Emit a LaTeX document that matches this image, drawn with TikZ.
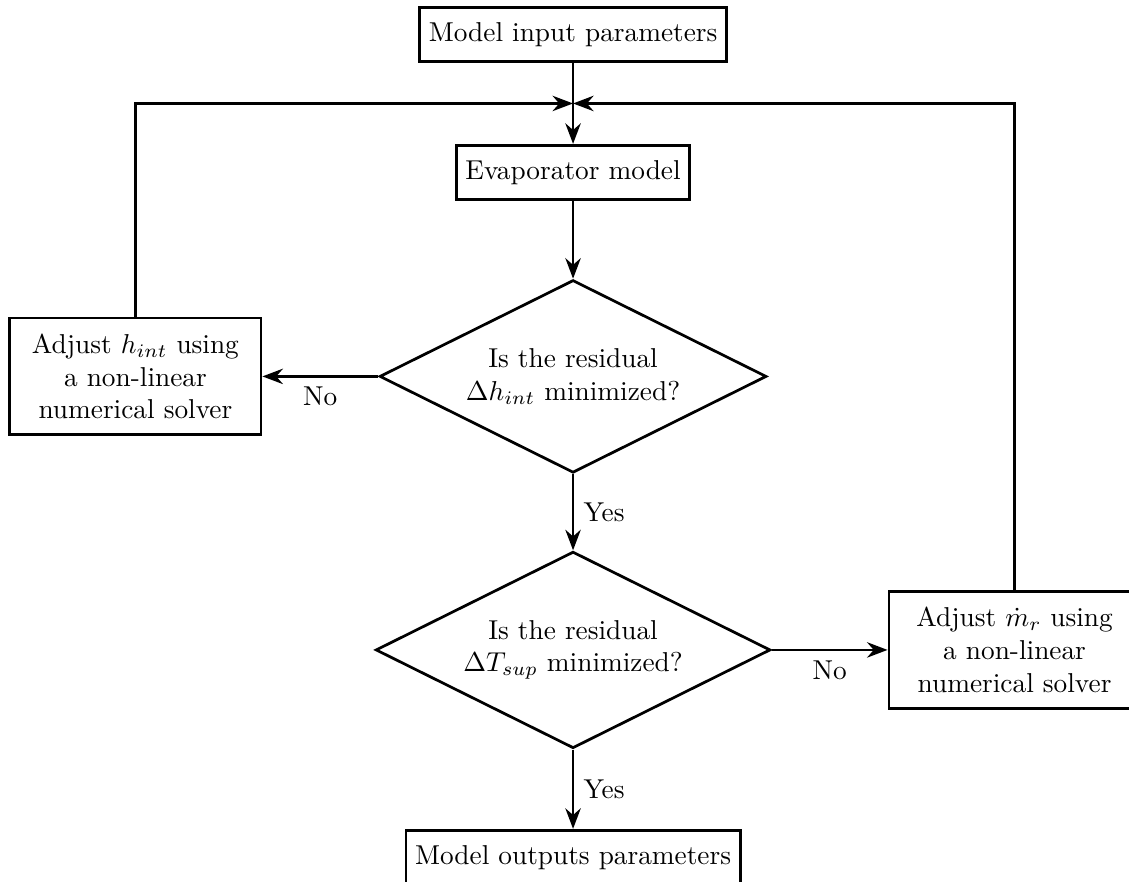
\documentclass[tikz,border=0pt]{standalone}
\usepackage{tikz}
\usetikzlibrary{arrows.meta,positioning,shapes.geometric}

\begin{document}
\begin{tikzpicture}[node distance = 1cm and 1.49cm, line width = 1pt,
        block/.style = {draw, rectangle, align = center, minimum height = 0.7cm},
        solver/.style = {draw, rectangle, align = center, text width = 3cm, minimum height = 1.5cm},
        decision/.style = {draw, diamond, align = center, inner sep = 0pt, aspect = 2}]
        \clip (0,0) rectangle (14.53,-11.35);
        \node (input) at (7.375,-0.444) [block] {Model input parameters};
        \node (evaporator) [block, below=1.04cm of input] {Evaporator model};
        \node (check1) [decision, minimum width = 4.98cm, minimum height = 2.48cm, below=1cm of evaporator] {Is the residual \\ $\Delta h_{int}$ minimized?};
        \node (adjust1) [solver, left=of check1] {Adjust $h_{int}$ using \\ a non-linear \\ numerical solver};
        \node (check2) [decision, minimum width = 5.08cm, minimum height = 2.53cm, below=0.98cm of check1] {Is the residual \\ $\Delta T_{sup}$ minimized?};
        \node (adjust2) [solver, right=of check2] {Adjust $\dot{m}_r$ using \\ a non-linear \\ numerical solver};
        \node (outputs) [block, below=1.02cm of check2] {Model outputs parameters};
        \coordinate [below=0.52cm of input] (join);
        \path [draw, -{Stealth[]}] (input) -- (evaporator);
        \path [draw, -{Stealth[]}] (evaporator) -- (check1);
        \path [draw, -{Stealth[]}] (check1) -- node [below] {No} (adjust1);
        \path [draw, -{Stealth[]}] (check1) -- node [right] {Yes} (check2);
        \path [draw, -{Stealth[]}] (check2) -- node [below] {No} (adjust2);
        \path [draw, -{Stealth[]}] (check2) -- node [right] {Yes} (outputs);
        \path [draw, -{Stealth[]}] (adjust1) |- (join);
        \path [draw, -{Stealth[]}] (adjust2) |- (join);
    \end{tikzpicture}
\end{document}
